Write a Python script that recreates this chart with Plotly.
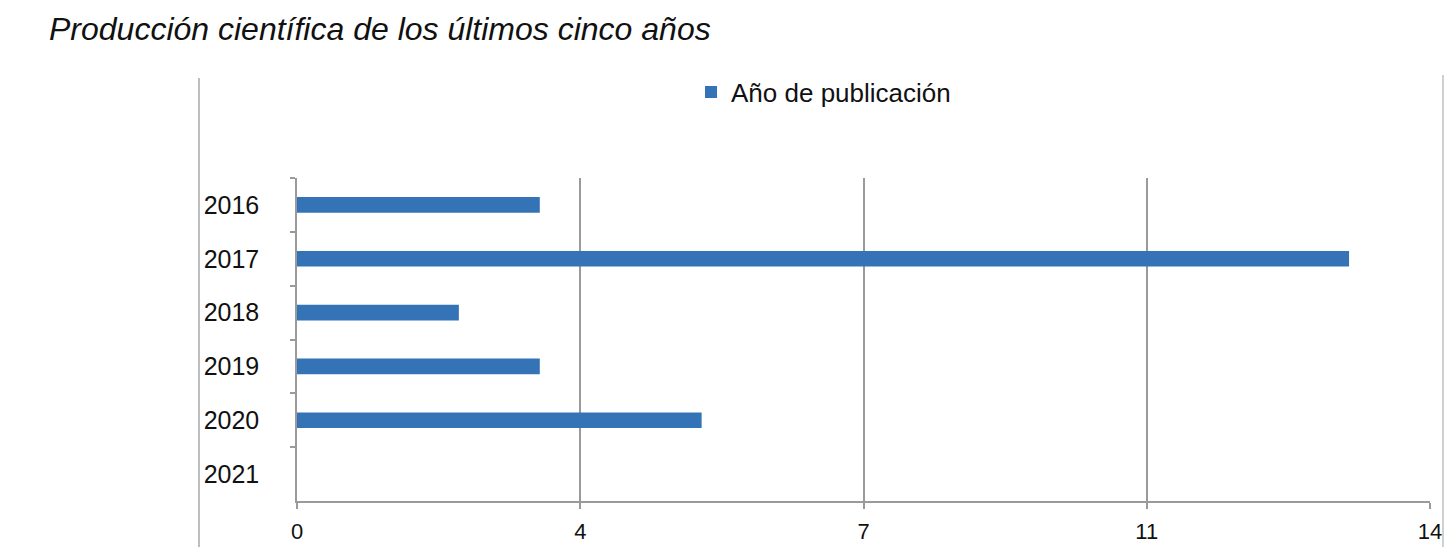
import plotly.graph_objects as go

years = ["2016", "2017", "2018", "2019", "2020", "2021"]
counts = [3, 13, 2, 3, 5, 0]
x_tickvals = [0, 3.5, 7, 10.5, 14]
x_ticktext = ["0", "4", "7", "11", "14"]
series_name = "Año de publicación"
title_text = "Producción científica de los últimos cinco años"

W, H = 1448, 547
L, R, T, B = 297, 18, 178, 46
pw, ph = W - L - R, H - T - B

def px_x(p):
    return (p - L) / pw

def px_y(p):
    return (H - B - p) / ph

grey = "#9a9a9a"
blue = "#3474b6"

fig = go.Figure()
fig.add_trace(go.Bar(
    y=years, x=counts, orientation="h", name=series_name,
    marker=dict(color=blue, line=dict(width=0)),
    showlegend=True,
))

fig.update_layout(
    width=W, height=H,
    margin=dict(l=L, r=R, t=T, b=B, pad=0, autoexpand=False),
    paper_bgcolor="white", plot_bgcolor="white",
    font=dict(family="Liberation Sans, Arial, sans-serif", color="#111111"),
    bargap=0.71,
    title=dict(
        text=title_text, x=49 / W, xanchor="left", xref="container",
        y=1 - 29 / H, yanchor="middle", yref="container",
        font=dict(size=32, style="italic", color="#111111"),
    ),
    legend=dict(
        orientation="h", x=px_x(691), xanchor="left", y=px_y(92), yanchor="middle",
        font=dict(size=26), bgcolor="rgba(0,0,0,0)",
    ),
    xaxis=dict(
        range=[0, 14], tickvals=x_tickvals, ticktext=x_ticktext,
        showgrid=True, gridcolor=grey, gridwidth=1.5,
        showline=True, linecolor=grey, linewidth=1.5,
        ticks="outside", ticklen=6, tickcolor=grey, tickwidth=1.5,
        zeroline=False, tickfont=dict(size=22), ticklabelstandoff=4,
        fixedrange=True, automargin=False,
    ),
    yaxis=dict(
        type="category", categoryorder="array", categoryarray=years,
        autorange="reversed",
        showgrid=False, zeroline=False,
        showline=True, linecolor=grey, linewidth=1.5,
        ticks="outside", tickson="boundaries", ticklen=5, tickcolor=grey, tickwidth=1.5,
        tickfont=dict(size=25), ticklabelstandoff=31, automargin=False,
    ),
)

# side frame lines of the original figure
fig.add_shape(type="line", xref="paper", yref="paper",
              x0=px_x(199), x1=px_x(199), y0=px_y(78), y1=px_y(H),
              line=dict(color="#a8a8a8", width=1.5))
fig.add_shape(type="line", xref="paper", yref="paper",
              x0=px_x(1443), x1=px_x(1443), y0=px_y(75), y1=px_y(H),
              line=dict(color="#c0c0c0", width=1.5))

fig.write_html("out.html")
